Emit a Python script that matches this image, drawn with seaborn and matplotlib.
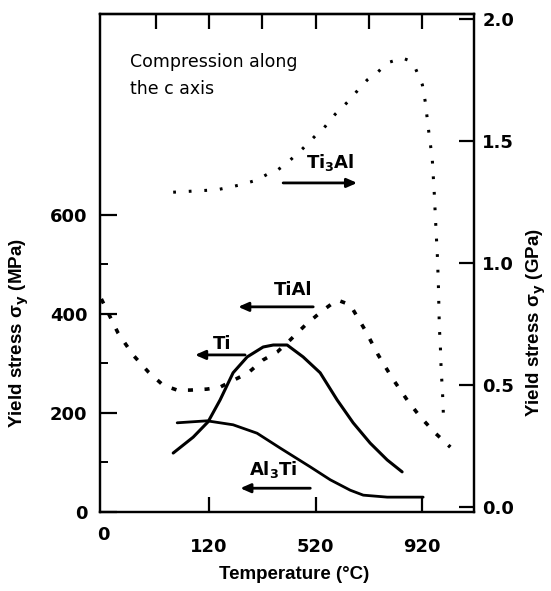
import numpy as np
import pandas as pd
import matplotlib
matplotlib.use("Agg")
import matplotlib.pyplot as plt
import matplotlib.transforms as mtransforms
import seaborn as sns

# === Data ===
# Ti3Al - right axis (GPa)
temp_ti3al = [-15, 150, 237, 300, 349, 376, 413, 473, 518, 549, 594, 650, 680, 714, 752,
              789, 819, 845, 870, 894, 921, 932, 947, 958, 966, 973, 977, 981, 985, 988,
              992, 996, 1000]
gpa_ti3al = [1.29, 1.30, 1.32, 1.34, 1.37, 1.38, 1.41, 1.47, 1.52, 1.55, 1.61, 1.67, 1.71,
             1.75, 1.78, 1.82, 1.83, 1.84, 1.83, 1.80, 1.73, 1.66, 1.52, 1.43, 1.28, 1.12,
             1.04, 0.92, 0.73, 0.68, 0.55, 0.49, 0.38]

# TiAl - left axis (MPa)
temp_tial = [-285, -222, -166, -109, -53, 0, 49, 112, 161, 267, 323, 376, 424, 481, 545,
             601, 650, 706, 755, 808, 864, 913, 970, 1026]
mpa_tial = [430, 361, 317, 283, 256, 246, 246, 248, 252, 281, 307, 323, 347, 377, 406,
            428, 418, 367, 317, 270, 226, 192, 159, 131]

# Ti - left axis (MPa)
temp_ti = [-15, 60, 116, 161, 210, 263, 323, 361, 413, 473, 537, 601, 661, 725, 789, 845]
mpa_ti = [119, 151, 182, 226, 281, 313, 333, 337, 337, 313, 281, 226, 180, 139, 105, 81]

# Al3Ti - left axis (MPa)
temp_al3ti = [0, 112, 210, 300, 387, 500, 575, 650, 699, 789, 924]
mpa_al3ti = [180, 184, 176, 159, 129, 91, 65, 44, 34, 30, 30]

x_ticks = [120, 520, 920]
x_top_ticks = [-80, 120, 320, 520, 720, 920]
mpa_ticks = [0, 200, 400, 600]
mpa_minor = [100, 300, 500]
gpa_ticks = [0.0, 0.5, 1.0, 1.5, 2.0]

# === Style ===
sns.set_theme(style="ticks")
plt.rcParams['font.family'] = ['Liberation Sans', 'DejaVu Sans']
plt.rcParams['font.weight'] = 'bold'
plt.rcParams['mathtext.fontset'] = 'dejavusans'
plt.rcParams['axes.linewidth'] = 1.6
plt.rcParams['axes.edgecolor'] = 'black'
for key in ('text.color', 'axes.labelcolor', 'xtick.color', 'ytick.color'):
    plt.rcParams[key] = 'black'

fig = plt.figure(figsize=(5.51, 5.91), dpi=100)
ax = fig.add_axes([100 / 551, 1 - 512 / 591, 374 / 551, 498 / 591])
ax2 = ax.twinx()

XMIN, XMAX = -290, 1115
ax.set_xlim(XMIN, XMAX)
ax.set_ylim(0, 1005)
ax2.set_ylim(-0.02, 2.02)

tick_font = dict(family='DejaVu Sans', weight='bold', size=13, color='black')

df_tial = pd.DataFrame({"T": temp_tial, "S": mpa_tial})
df_ti = pd.DataFrame({"T": temp_ti, "S": mpa_ti})
df_al3ti = pd.DataFrame({"T": temp_al3ti, "S": mpa_al3ti})
df_ti3al = pd.DataFrame({"T": temp_ti3al, "S": gpa_ti3al})

sns.lineplot(data=df_ti, x="T", y="S", sort=False, estimator=None, color="black",
             lw=2.2, ax=ax)
sns.lineplot(data=df_al3ti, x="T", y="S", sort=False, estimator=None, color="black",
             lw=2.0, ax=ax)
sns.lineplot(data=df_tial, x="T", y="S", sort=False, estimator=None, color="black",
             lw=2.6, linestyle=(0, (1.4, 3.2)), ax=ax)
sns.lineplot(data=df_ti3al, x="T", y="S", sort=False, estimator=None, color="black",
             lw=2.2, linestyle=(0, (0.9, 4.2)), ax=ax2)

# === Axes / ticks ===
ax.set_xticks(x_ticks)
ax.set_xticklabels([str(t) for t in x_ticks], fontdict=tick_font)
ax.tick_params(axis='x', direction='in', length=11, width=1.6, pad=19, bottom=True, top=False)

ax.set_yticks(mpa_ticks)
ax.set_yticklabels([str(t) for t in mpa_ticks], fontdict=tick_font)
ax.set_yticks(mpa_minor, minor=True)
ax.tick_params(axis='y', which='major', direction='in', length=12, width=1.6, pad=9)
ax.tick_params(axis='y', which='minor', direction='in', length=6, width=1.4)

ax2.set_yticks(gpa_ticks)
ax2.set_yticklabels([f"{t:.1f}" for t in gpa_ticks], fontdict=tick_font)
ax2.tick_params(axis='y', direction='in', length=11, width=1.6, pad=6)

top = ax.secondary_xaxis('top')
top.set_xticks(x_top_ticks)
top.tick_params(direction='in', length=11, width=1.6, labeltop=False)

trans = mtransforms.blended_transform_factory(ax.transData, ax.transAxes)
ax.text(-278, -0.046, "0", transform=trans, ha='center', va='center', **tick_font)

label_font = dict(family=['Liberation Sans', 'DejaVu Sans'], weight='bold', size=13.5,
                  color='black')
ax.set_xlabel("Temperature (°C)", fontdict=label_font)
ax.xaxis.set_label_coords(0.52, -0.108)
ax.set_ylabel(r"Yield stress σ$_\mathbf{y}$ (MPa)", fontdict=label_font)
ax.yaxis.set_label_coords(-0.185, 0.36)
ax2.set_ylabel(r"Yield stress σ$_\mathbf{y}$ (GPa)", fontdict=label_font)
ax2.yaxis.set_label_coords(1.136, 0.38)

# === Annotations ===
ax.text(0.08, 0.904, "Compression along", transform=ax.transAxes, ha='left', va='center',
        family='DejaVu Sans', weight='normal', size=12.5, color='black')
ax.text(0.08, 0.849, "the c axis", transform=ax.transAxes, ha='left', va='center',
        family='DejaVu Sans', weight='normal', size=12.5, color='black')

arrow = dict(arrowstyle='-|>,head_length=0.5,head_width=0.22', color='black', lw=2.0,
             shrinkA=0, shrinkB=0)
lbl = dict(family='DejaVu Sans', weight='bold', size=13, ha='center', va='center',
           color='black')

ax2.annotate("", xy=(676, 1.328), xytext=(398, 1.328), arrowprops=arrow)
ax2.text(575, 1.41, r"Ti$_\mathbf{3}$Al", **lbl)

ax.annotate("", xy=(229, 414), xytext=(511, 414), arrowprops=arrow)
ax.text(436, 448, "TiAl", **lbl)

ax.annotate("", xy=(67, 317), xytext=(255, 317), arrowprops=arrow)
ax.text(169, 339, "Ti", **lbl)

ax.annotate("", xy=(237, 48), xytext=(500, 48), arrowprops=arrow)
ax.text(361, 85, r"Al$_\mathbf{3}$Ti", **lbl)

for a in (ax, ax2):
    for s in a.spines.values():
        s.set_linewidth(1.6)
        s.set_color('black')
    a.grid(False)

fig.savefig("out.png", dpi=100)
